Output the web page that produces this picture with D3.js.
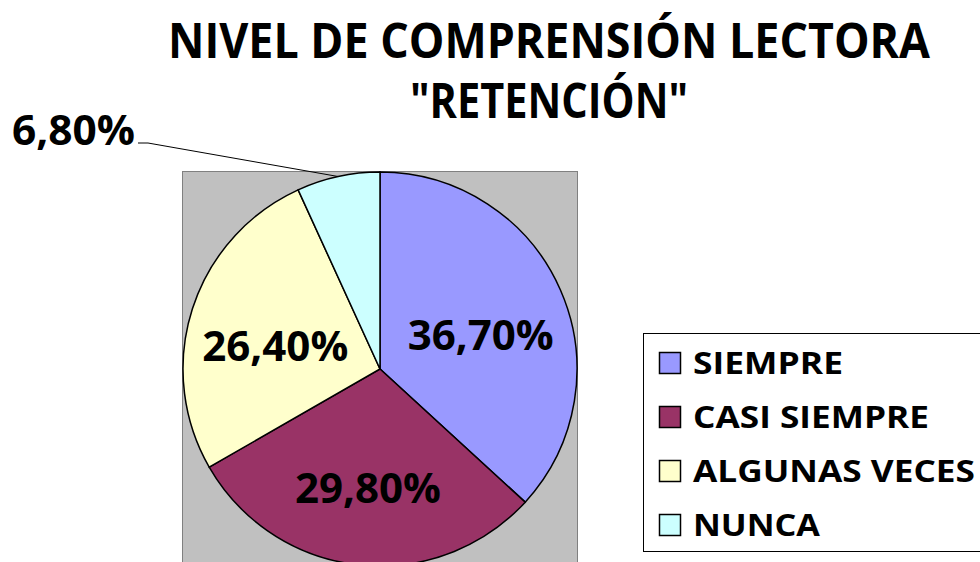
<!DOCTYPE html>
<html>
	<head>
		<title>Nivel de comprension lectora</title>
		<meta charset="utf-8">
	</head>
	<body>
		<svg id="chart" width="980" height="562"></svg>
	</body>

	<script src="https://d3js.org/d3.v7.min.js"></script>
	<script>
		let categories = ["SIEMPRE", "CASI SIEMPRE", "ALGUNAS VECES", "NUNCA"];
		let values = [36.7, 29.8, 26.4, 6.8];
		let labels = ["36,70%", "29,80%", "26,40%", "6,80%"];
		let colors = ["#9999ff", "#993366", "#ffffcc", "#ccffff"];
		let titleLines = ["NIVEL DE COMPRENSIÓN LECTORA", "\"RETENCIÓN\""];

		let svg = d3.select("#chart");

		// title
		let titleWidths = [762, 278];
		svg.selectAll(".title")
			.data(titleLines)
			.enter()
			.append("text")
				.attr("class", "title")
				.attr("x", 549)
				.attr("y", (d, i) => 58 + i * 60)
				.attr("text-anchor", "middle")
				.attr("textLength", (d, i) => titleWidths[i])
				.attr("lengthAdjust", "spacingAndGlyphs")
				.style("font-size", "49px")
				.text(d => d);

		// plot area
		let cx = 380, cy = 369, r = 197;
		svg.append("rect")
			.attr("x", 182.5)
			.attr("y", 171.5)
			.attr("width", 395)
			.attr("height", 400)
			.attr("fill", "#c0c0c0")
			.attr("stroke", "#808080")
			.attr("stroke-width", 1);

		let pie = d3.pie().sort(null).value(d => d);
		let arcs = pie(values);
		let arc = d3.arc().innerRadius(0).outerRadius(r);

		let g = svg.append("g").attr("transform", `translate(${cx},${cy})`);

		g.selectAll("path")
			.data(arcs)
			.enter()
			.append("path")
				.attr("d", arc)
				.attr("fill", (d, i) => colors[i])
				.attr("stroke", "#000")
				.attr("stroke-width", 1.5);

		// labels inside the big slices
		let labelArc = d3.arc().innerRadius(110).outerRadius(110);
		g.selectAll(".slice-label")
			.data(arcs.slice(0, 3))
			.enter()
			.append("text")
				.attr("class", "slice-label")
				.attr("transform", d =>
				{
					let c = labelArc.centroid(d);
					return `translate(${c[0]},${c[1] + 10})`;
				})
				.attr("text-anchor", "middle")
				.attr("dy", "0.36em")
				.attr("textLength", 146)
				.attr("lengthAdjust", "spacingAndGlyphs")
				.style("font-size", "42px")
				.text((d, i) => labels[i]);

		// NUNCA label outside with a leader line
		let small = arcs[3];
		let edge = d3.arc().innerRadius(r).outerRadius(r).centroid(small);
		g.append("polyline")
			.attr("points", [[138 - cx, 143 - cy], [148 - cx, 143 - cy], edge].map(p => p.join(",")).join(" "))
			.attr("fill", "none")
			.attr("stroke", "#000")
			.attr("stroke-width", 1);

		svg.append("text")
			.attr("x", 135)
			.attr("y", 145)
			.attr("text-anchor", "end")
			.attr("textLength", 123)
			.attr("lengthAdjust", "spacingAndGlyphs")
			.style("font-size", "42px")
			.text(labels[3]);

		// legend
		svg.append("rect")
			.attr("x", 643.5)
			.attr("y", 333.5)
			.attr("width", 360)
			.attr("height", 218)
			.attr("fill", "#fff")
			.attr("stroke", "#000")
			.attr("stroke-width", 1);

		let legendWidths = [150, 236, 282, 127];
		let item = svg.selectAll(".legend-item")
			.data(categories)
			.enter()
			.append("g")
				.attr("class", "legend-item")
				.attr("transform", (d, i) => `translate(659,${352 + i * 54})`);

		item.append("rect")
			.attr("x", 0.5)
			.attr("y", 0.5)
			.attr("width", 21)
			.attr("height", 21)
			.attr("fill", (d, i) => colors[i])
			.attr("stroke", "#000")
			.attr("stroke-width", 1.5);

		item.append("text")
			.attr("x", 34)
			.attr("y", 22)
			.attr("textLength", (d, i) => legendWidths[i])
			.attr("lengthAdjust", "spacingAndGlyphs")
			.style("font-size", "31px")
			.text(d => d);
	</script>

	<style>
		html, body
		{
			margin: 0;
			background: #fff;
			overflow: hidden;
		}

		text
		{
			font-family: 'Open Sans', 'Noto Sans', sans-serif;
			font-weight: 700;
			fill: #000;
		}
	</style>
</html>
